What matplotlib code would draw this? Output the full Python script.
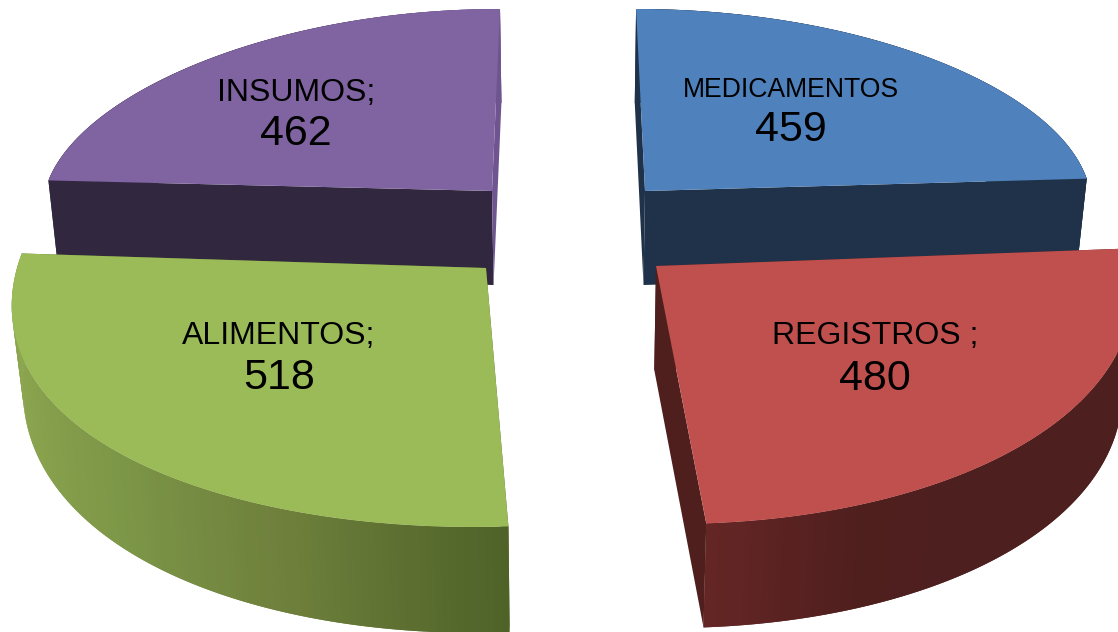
import numpy as np
import matplotlib
matplotlib.use("Agg")
import matplotlib.pyplot as plt
from matplotlib.colors import to_rgb

categories = ["MEDICAMENTOS", "REGISTROS ;", "ALIMENTOS;", "INSUMOS;"]
values = [459, 480, 518, 462]

W, H = 1118, 632

# look of each slice: apex, radii, depth, shear and perspective, all in pixels
slices = [
    dict(apex=(645, 191), rx=445, ry=182, depth=94, fall=0, shear=0.049, persp=0.055,
         top="#4F81BD", wall=["#1F3249", "#1F3249"], start="#1F3249", end="#1F3249"),
    dict(apex=(656, 266), rx=476, ry=258, depth=104, fall=0, shear=0.065, persp=0.05,
         top="#C0504D", wall=["#4D1F1F", "#4D1F1F", "#4D1F1F", "#4D1F1F", "#4F1F1E", "#642625"],
         start="#4F1F1E", end="#4F1F1E"),
    dict(apex=(486, 268), rx=469, ry=250, depth=105, fall=0.24, shear=-0.05, persp=0.12,
         top="#9BBB59", wall=["#4F6228", "#6E7F3B", "#7D9748", "#8AA34E", "#8FA852"],
         start="#4F6228", end="#4F6228"),
    dict(apex=(492, 191), rx=447, ry=182, depth=94, fall=0, shear=-0.044, persp=0.085,
         top="#8064A2", wall=["#31273F", "#31273F", "#6F5590"], start="#31273F", end="#6F5590"),
]

# label positions for name and value, with their font sizes
labels = [
    dict(x=791, y=90, vy=130, size=19.2, vsize=31),
    dict(x=875, y=336, vy=379, size=23, vsize=31),
    dict(x=279, y=336, vy=378, size=23, vsize=31),
    dict(x=296, y=93, vy=134, size=23, vsize=31),
]

vanish_x = 570
taper = 0.02


def arc_points(s, t):
    ax_, ay_ = s["apex"]
    dy = -s["ry"] * np.sin(t)
    # the near half of the green slice is a bit deeper than its far corner
    if s["ry"] == 250:
        dy = np.where(dy > 0, dy * 259 / 250, dy)
    x = ax_ + s["rx"] * np.cos(t) * (1 + s["persp"] * dy / s["ry"]) + s["shear"] * dy
    return x, ay_ + dy


def lower(s, x, y):
    # nearer the side of the pie the wall looks shorter
    d = s["depth"] * (1 + s["fall"] * ((y - s["apex"][1]) / s["ry"] - 1))
    return x + (vanish_x - x) * taper, y + d


def wall_colour(stops, f):
    stops = np.array([to_rgb(c) for c in stops])
    pos = np.linspace(0, 1, len(stops))
    return [np.interp(f, pos, stops[:, i]) for i in range(3)]


plt.rcParams["font.family"] = ["Liberation Sans", "DejaVu Sans"]
fig = plt.figure(figsize=(W / 100, H / 100), dpi=100)
ax = fig.add_axes([0, 0, 1, 1])
ax.set_xlim(0, W)
ax.set_ylim(H, 0)
ax.axis("off")

# slices start at twelve o'clock and go clockwise
angles = 90 - np.concatenate([[0], np.cumsum(values)]) / sum(values) * 360

# draw back slices first, the front ones cover them
for order, i in enumerate([0, 3, 1, 2]):
    s = slices[i]
    t = np.radians(np.linspace(angles[i], angles[i + 1], 120))
    x, y = arc_points(s, t)
    bx, by = lower(s, x, y)
    ax0, ay0 = s["apex"]
    abx, aby = ax0 + (vanish_x - ax0) * taper, ay0 + s["depth"]

    ax.fill([ax0, x[0], bx[0], abx], [ay0, y[0], by[0], aby], color=s["start"], lw=0, zorder=order)
    ax.fill([ax0, x[-1], bx[-1], abx], [ay0, y[-1], by[-1], aby], color=s["end"], lw=0, zorder=order)
    for j in range(len(t) - 1):
        # each quad runs a little into the next one so no seams show
        k = min(j + 2, len(t) - 1)
        c = wall_colour(s["wall"], j / (len(t) - 2))
        ax.fill([x[j], x[k], bx[k], bx[j]], [y[j], y[k], by[k], by[j]],
                color=c, lw=0, zorder=order)
    ax.fill(np.r_[ax0, x], np.r_[ay0, y], color=s["top"], lw=0, zorder=order + 0.5)

for name, val, lab in zip(categories, values, labels):
    ax.text(lab["x"], lab["y"], name, fontsize=lab["size"], ha="center", va="center", zorder=10)
    ax.text(lab["x"], lab["vy"], str(val), fontsize=lab["vsize"], ha="center", va="center", zorder=10)

fig.savefig("out.png", dpi=100)
